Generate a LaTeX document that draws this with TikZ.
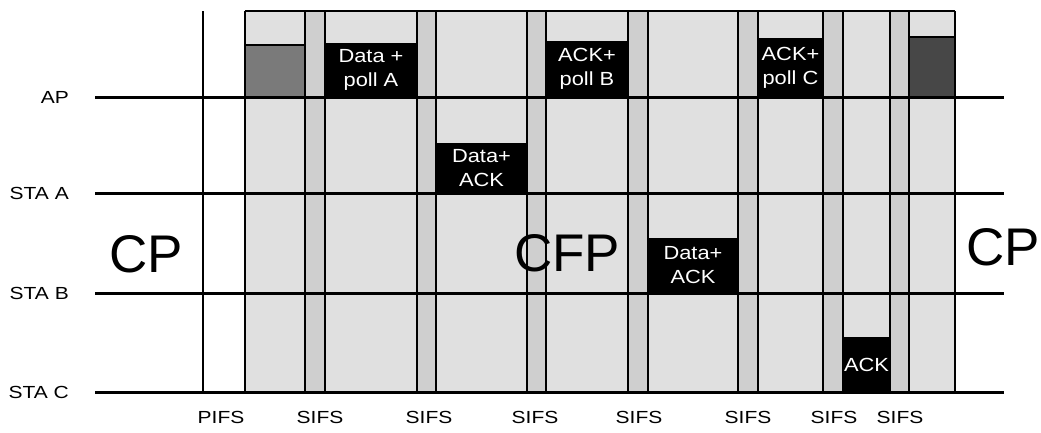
\documentclass[tikz,border=0pt]{standalone}
\usepackage{fontspec}
\setmainfont{Liberation Sans}
\definecolor{cfpfill}{gray}{0.88}
\definecolor{sifsfill}{gray}{0.81}
\definecolor{midbox}{gray}{0.48}
\definecolor{darkbox}{gray}{0.28}
\newcommand\wideL[1]{\scalebox{1.2}[1]{#1}}
\newcommand\wideB[1]{\scalebox{1.15}[1]{#1}}
\begin{document}
\begin{tikzpicture}[x=1pt,y=-1pt,
  lbl/.style={font=\fontsize{17.5}{20}\selectfont, inner sep=0pt},
  big/.style={font=\fontsize{53}{60}\selectfont, inner sep=0pt},
  frame/.style={fill=black, text=white, draw=black, line width=1pt, inner sep=0pt, align=center, font=\fontsize{19}{24}\selectfont},
  greybox/.style={draw=black, line width=1.5pt, inner sep=0pt},
  hline/.style={line width=3pt},
  vline/.style={line width=1.7pt}]
\useasboundingbox (0,0) rectangle (1041,432);
% shaded CFP region
\fill[cfpfill] (245,11) rectangle (955,392);
\foreach \a/\b in {305/325,417/436,527/546,628/648,738/758,823/843,890/909}
  \fill[sifsfill] (\a,11) rectangle (\b,392);
\draw[vline] (245,11) -- (955,11);
\foreach \x in {203,245,305,325,417,436,527,546,628,648,738,758,823,843,890,909,955}
  \draw[vline] (\x,11) -- (\x,392);
% station lines
\foreach \y in {97,193,293,392}
  \draw[hline] (95,\y) -- (1004,\y);
% station labels
\node[lbl, anchor=east] (ap) at (69,97) {\wideL{AP}};
\node[lbl, anchor=east] (sa) at (69,193) {\wideL{STA A}};
\node[lbl, anchor=east] (sb) at (69,293) {\wideL{STA B}};
\node[lbl, anchor=east] (sc) at (69,392) {\wideL{STA C}};
% frames
\node[greybox, fill=midbox, minimum width=60pt, minimum height=52pt] (g1) at (275,71) {};
\node[frame, minimum width=92pt, minimum height=54pt] (dpa) at (371,70) {\wideB{Data +}\\\wideB{poll A}};
\node[frame, minimum width=91pt, minimum height=50pt] (daa) at (481.5,168) {\wideB{Data+}\\\wideB{ACK}};
\node[frame, minimum width=82pt, minimum height=56pt] (apb) at (587,69) {\wideB{ACK+}\\\wideB{poll B}};
\node[frame, minimum width=90pt, minimum height=55pt] (dab) at (693,265.5) {\wideB{Data+}\\\wideB{ACK}};
\node[frame, minimum width=65pt, minimum height=59pt] (apc) at (790.5,67.5) {\wideB{ACK+}\\\wideB{poll C}};
\node[frame, minimum width=47pt, minimum height=55pt] (ackc) at (866.5,364.5) {\wideB{ACK}};
\node[greybox, fill=darkbox, minimum width=46pt, minimum height=60pt] (g2) at (932,67) {};
% period labels
\node[big] (cp1) at (146,254) {CP};
\node[big] (cfp) at (567,253) {CFP};
\node[big] (cp2) at (1003,247) {CP};
% interframe spaces
\node[lbl] (pifs) at (221,417) {\wideL{PIFS}};
\foreach \x [count=\i] in {320,429,535,639,748,834,900}
  \node[lbl] (sifs\i) at (\x,417) {\wideL{SIFS}};
\end{tikzpicture}
\end{document}
